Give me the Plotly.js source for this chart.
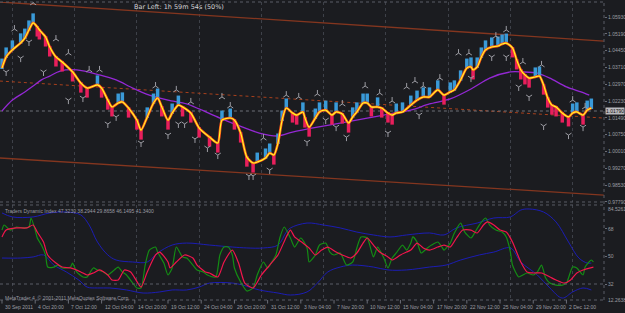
<!DOCTYPE html>
<html><head><meta charset="utf-8">
<script src="https://cdn.plot.ly/plotly-3.0.1.min.js"></script>
<style>html,body{margin:0;padding:0;background:#1b1c20;}#chart{width:625px;height:313px;}</style>
</head><body><div id="chart"></div>
<script>
// ---- data (x = H4 bar index from 30 Sep 2011 04:00) ----
const priceBars = [0,2,5,9,11,13,15,17,18,21,23,26,29,34,38,41,46,48,51,53,56,58,61,65,67,70,73,75,77,80,82,85,87,91,95,100,104,106,110,112,115,118,121,123,127,129,131,133,135,137,140,142,145,146,148,151,153,156,159,161,164,167,169,171,174,176,178,181,183,186,188,190,193,197,200,203,206,210,213,216,218,221,224,226,227,229,231,233,236,239,241,243,246,248,250,252,254,257,259,261,263,265,267,270,273,275,277,280,282,284];
const priceVals = [1.0368,1.0417,1.0448,1.0479,1.0500,1.0536,1.0567,1.0549,1.0536,1.0505,1.0461,1.0417,1.0395,1.0351,1.0302,1.0280,1.0294,1.0280,1.0227,1.0197,1.0214,1.0219,1.0192,1.0139,1.0095,1.0153,1.0214,1.0236,1.0197,1.0139,1.0170,1.0205,1.0197,1.0170,1.0104,1.0064,1.0038,1.0139,1.0148,1.0139,1.0082,0.9976,0.9950,0.9954,0.9972,0.9994,0.9985,1.0038,1.0139,1.0192,1.0170,1.0161,1.0175,1.0148,1.0108,1.0148,1.0175,1.0183,1.0161,1.0175,1.0166,1.0126,1.0153,1.0175,1.0214,1.0214,1.0197,1.0197,1.0192,1.0170,1.0161,1.0170,1.0175,1.0205,1.0227,1.0241,1.0241,1.0272,1.0249,1.0263,1.0272,1.0316,1.0368,1.0373,1.0360,1.0373,1.0417,1.0448,1.0461,1.0465,1.0474,1.0478,1.0457,1.0404,1.0360,1.0338,1.0324,1.0329,1.0333,1.0293,1.0236,1.0205,1.0197,1.0170,1.0153,1.0170,1.0175,1.0161,1.0183,1.0192];

const maBars = [0,5,11,15,19,23,28,36,47,55,63,71,80,89,95,105,116,124,133,140,152,163,176,187,197,206,216,226,235,245,251,258,264,272,279,283];
const maVals = [1.0179,1.0227,1.0263,1.0289,1.0316,1.0333,1.0355,1.0360,1.0338,1.0316,1.0280,1.0249,1.0227,1.0210,1.0188,1.0148,1.0108,1.0082,1.0069,1.0086,1.0108,1.0126,1.0148,1.0166,1.0183,1.0210,1.0232,1.0276,1.0324,1.0351,1.0351,1.0346,1.0324,1.0285,1.0263,1.0249];

const channelBars = [-1, 290];
const channelUpper = [1.0659, 1.0487];
const channelMiddle = [1.0311, 1.0148];
const channelLower = [0.9972, 0.9809];
const bidPrice = 1.0179;

const fracUpBars = [6,15,26,32,42,47,74,84,91,106,110,126,137,143,152,164,175,182,188,195,199,203,211,220,225,238,243,251,260,275,281];
const fracUpVals = [1.0540,1.0655,1.0496,1.0434,1.0360,1.0360,1.0289,1.0272,1.0219,1.0241,1.0201,1.0060,1.0249,1.0241,1.0254,1.0210,1.0289,1.0258,1.0223,1.0285,1.0311,1.0289,1.0324,1.0434,1.0434,1.0509,1.0536,1.0395,1.0382,1.0227,1.0197];
const fracDnBars = [2,9,13,20,32,39,51,55,67,80,85,88,93,99,104,119,121,129,147,156,161,166,186,201,226,236,243,249,254,261,273,280];
const fracDnVals = [1.0351,1.0412,1.0483,1.0351,1.0227,1.0236,1.0122,1.0153,1.0038,1.0073,1.0122,1.0122,1.0056,1.0016,0.9985,0.9893,0.9893,0.9919,1.0042,1.0139,1.0108,1.0064,1.0082,1.0161,1.0324,1.0417,1.0417,1.0285,1.0241,1.0113,1.0073,1.0108];

const rsiBars = [0,1,4,7,10,13,14,16,17,19,21,22,25,27,29,33,34,36,39,41,44,46,49,51,53,56,58,60,63,65,67,69,71,74,75,78,80,82,84,87,89,92,94,97,99,103,105,107,109,111,112,115,118,121,123,126,128,130,132,134,136,139,141,144,147,148,151,153,156,158,160,163,166,169,171,173,176,179,181,184,186,188,190,193,195,197,198,200,202,205,207,210,212,213,216,218,221,223,226,228,230,233,235,238,241,243,245,246,249,251,253,256,258,260,262,264,267,270,272,275,277,280,281,284,285];
const rsiVals = [67.3,70.6,67.3,69.3,68.7,69.3,75.2,67.3,62.1,57.5,51.0,43.1,43.1,44.4,42.5,43.1,45.7,39.9,36.6,36.6,42.5,41.2,39.9,37.9,39.9,43.1,39.9,37.9,32.6,29.4,29.4,44.4,54.2,56.2,52.9,45.7,37.9,42.5,56.2,49.7,49.0,44.4,41.2,39.9,37.9,36.6,51.0,56.2,56.2,51.0,42.5,33.3,27.4,29.4,37.9,46.4,42.5,46.4,51.0,62.8,69.3,62.1,56.2,62.1,55.6,46.4,51.0,57.5,58.8,52.9,51.0,52.3,44.4,46.4,55.6,62.8,62.1,49.7,56.2,49.0,42.5,49.0,52.3,57.5,54.2,58.8,62.8,59.5,52.3,55.6,57.5,59.5,56.2,54.2,58.8,65.4,71.9,66.0,62.1,66.0,70.6,75.2,70.6,67.3,66.0,62.8,52.9,44.4,36.6,37.9,39.2,37.9,39.9,44.4,35.9,32.6,31.3,31.3,32.6,43.1,42.5,37.9,43.1,47.7,46.4];

const sigBars = [0,2,7,12,15,17,20,22,26,29,33,38,41,44,47,51,53,56,59,62,64,67,70,74,76,80,81,84,88,92,94,98,100,104,107,111,114,117,121,125,129,133,137,139,141,145,148,151,154,157,161,164,168,171,174,176,179,182,186,188,192,195,197,200,203,206,210,213,216,219,222,226,229,232,234,237,240,243,246,250,253,256,260,264,267,271,274,277,280,285];
const sigVals = [62.8,67.3,68.7,68.7,70.6,66.0,59.5,51.0,45.7,43.1,42.5,39.9,37.9,39.2,41.2,37.9,34.6,34.6,41.2,39.9,35.9,30.0,39.9,51.0,52.9,46.4,42.5,46.4,51.0,49.0,44.4,39.9,39.2,36.6,46.4,54.2,45.7,32.6,29.4,37.9,44.4,51.0,62.8,67.3,62.8,58.8,55.6,51.0,54.2,56.2,52.9,51.0,49.0,52.3,58.8,62.1,57.5,52.9,49.7,47.7,51.0,52.9,54.2,58.8,55.6,54.2,56.2,57.5,56.2,62.1,67.3,67.3,65.4,70.6,72.6,70.6,67.3,66.0,59.5,46.4,39.9,39.2,39.2,36.6,34.6,32.6,34.6,39.2,41.2,43.1];

const upBandBars = [0,5,15,23,31,38,42,46,51,55,63,70,75,82,89,100,111,118,126,133,137,139,147,155,163,171,179,187,195,206,213,219,229,237,245,250,254,261,267,273,278,282,284];
const upBandVals = [78.5,75.9,75.9,78.5,79.1,77.2,70.6,59.5,51.0,47.7,46.4,46.4,52.3,57.5,58.8,57.5,56.2,55.6,55.6,57.5,66.0,68.7,71.9,70.6,68.7,66.0,64.1,62.8,64.1,65.4,64.1,68.7,71.9,75.2,75.9,80.4,81.1,79.1,72.6,59.5,49.0,45.7,45.7];
const loBandBars = [0,9,15,20,25,31,37,41,46,52,60,68,76,82,89,95,100,111,116,124,133,139,147,152,157,163,169,179,186,195,206,214,221,230,237,245,250,258,264,270,275,280,284];
const loBandVals = [49.0,49.0,49.7,51.0,44.4,39.9,34.6,30.0,29.4,29.4,28.1,26.1,26.8,28.1,28.1,30.0,32.6,32.6,31.3,28.1,26.1,24.8,26.8,32.6,39.9,43.1,44.4,43.1,41.2,41.2,43.1,44.4,47.7,51.0,52.9,55.6,46.4,37.9,29.4,22.8,26.8,29.4,28.1];

const priceTicks = [1.0593,1.0519,1.0445,1.0371,1.0297,1.0223,1.0149,1.0075,1.0001,0.9927,0.9853,0.9779];
const tdiTicks = [68,50,32];
const tdiLevel = 32;
const tdiMaxLabel = "84.5261";
const tdiMinLabel = "12.2638";
const timeLabels = ["30 Sep 2011","4 Oct 20:00","7 Oct 12:00","12 Oct 04:00","14 Oct 20:00","19 Oct 12:00","24 Oct 04:00","26 Oct 20:00","31 Oct 12:00","3 Nov 04:00","7 Nov 20:00","10 Nov 12:00","15 Nov 04:00","17 Nov 20:00","22 Nov 12:00","25 Nov 04:00","29 Nov 20:00","2 Dec 12:00"];
const timeLabelBars = [0,16,32,48,64,80,96,112,128,144,160,176,192,208,224,240,256,272];
const weekGridBars = [5,35,65,95,125,155,185,215,245,275];
const barLeftText = "Bar Left: 1h 59m 54s (50%)";
const tdiTitle = "Traders Dynamic Index 47.3230 38.2944 29.8658 46.1495 41.3400";
const footerText = "MetaTrader 4, © 2001-2011 MetaQuotes Software Corp.";

// ---- build traces ----
const upX=[],upY=[],dnX=[],dnY=[];
for (let i=0;i<priceVals.length;i++){
  if (i===0 || priceVals[i]>=priceVals[i-1]) {upX.push(priceBars[i]);upY.push(priceVals[i]);}
  else {dnX.push(priceBars[i]);dnY.push(priceVals[i]);}
}
const chanColor = '#84361f';
const fracCol = '#9d9da4';
const traces = [
  {x:channelBars,y:channelUpper,mode:'lines',line:{color:chanColor,width:1.3},xaxis:'x',yaxis:'y'},
  {x:channelBars,y:channelLower,mode:'lines',line:{color:chanColor,width:1.3},xaxis:'x',yaxis:'y'},
  {x:channelBars,y:channelMiddle,mode:'lines',line:{color:'#a8401c',width:1,dash:'dot'},xaxis:'x',yaxis:'y'},
  {x:channelBars,y:[bidPrice,bidPrice],mode:'lines',line:{color:'#6e7078',width:1,dash:'dot'},xaxis:'x',yaxis:'y'},
  {x:maBars,y:maVals,mode:'lines',line:{color:'#9428d4',width:1.3,shape:'spline',smoothing:0.8},xaxis:'x',yaxis:'y'},
  {x:upX,y:upY,mode:'markers',marker:{size:1,opacity:0},xaxis:'x',yaxis:'y',
   error_y:{type:'constant',symmetric:false,value:0.0042,valueminus:0.0004,color:'#3a9ad8',thickness:3.5,width:0}},
  {x:dnX,y:dnY,mode:'markers',marker:{size:1,opacity:0},xaxis:'x',yaxis:'y',
   error_y:{type:'constant',symmetric:false,value:0.0004,valueminus:0.0042,color:'#e81f5c',thickness:3.5,width:0}},
  {x:priceBars,y:priceVals,mode:'lines',line:{color:'#ff5418',width:2.6,shape:'spline',smoothing:0.7},xaxis:'x',yaxis:'y'},
  {x:priceBars,y:priceVals,mode:'lines',line:{color:'#ffff28',width:1.1,shape:'spline',smoothing:0.7},xaxis:'x',yaxis:'y'},
  {x:fracUpBars,y:fracUpVals,mode:'markers',marker:{symbol:'y-up-open',size:5,color:fracCol,line:{color:fracCol,width:1}},xaxis:'x',yaxis:'y'},
  {x:fracDnBars,y:fracDnVals,mode:'markers',marker:{symbol:'y-down-open',size:5,color:fracCol,line:{color:fracCol,width:1}},xaxis:'x',yaxis:'y'},
  {x:upBandBars,y:upBandVals,mode:'lines',line:{color:'#1c1cb4',width:1,shape:'spline'},xaxis:'x2',yaxis:'y2'},
  {x:loBandBars,y:loBandVals,mode:'lines',line:{color:'#1c1cb4',width:1,shape:'spline'},xaxis:'x2',yaxis:'y2'},
  {x:rsiBars,y:rsiVals,mode:'lines',line:{color:'#148c14',width:1.2,shape:'spline',smoothing:0.6},xaxis:'x2',yaxis:'y2'},
  {x:sigBars,y:sigVals,mode:'lines',line:{color:'#f2154c',width:1.2,shape:'spline',smoothing:0.6},xaxis:'x2',yaxis:'y2'}
];

const xr = [-0.96, 290.1];
const gridCol = '#3e4149';
const axX = {range:xr,tickvals:weekGridBars,showgrid:true,gridcolor:gridCol,griddash:'dot',gridwidth:1,
  showticklabels:false,ticks:'',zeroline:false,showline:false,fixedrange:true};
const fam = 'Liberation Sans Narrow, Liberation Sans, DejaVu Sans Condensed, sans-serif';
const tickFont = {family:fam,size:5,color:'#9c9ca2'};

const shapes = [];
[1, 0.32886, 0.3188, 0].forEach(v=>shapes.push({type:'line',xref:'paper',yref:'paper',x0:0,x1:1,y0:v,y1:v,line:{color:'#5a5d66',width:1,dash:'dot'}}));
shapes.push({type:'line',xref:'paper',yref:'paper',x0:1,x1:1,y0:0,y1:1,line:{color:'#5a5d66',width:1,dash:'dot'}});
shapes.push({type:'line',xref:'paper',yref:'y2',x0:0,x1:1,y0:tdiLevel,y1:tdiLevel,line:{color:'#5a5d66',width:1,dash:'dot'}});
timeLabelBars.forEach(b=>shapes.push({type:'line',xref:'x2',yref:'paper',x0:b,x1:b,y0:0,y1:-0.012,line:{color:'#6a6d76',width:1}}));

const annotations = [
  {text:barLeftText,xref:'paper',yref:'paper',x:0.2185,y:0.983,xanchor:'left',yanchor:'middle',showarrow:false,font:{family:'DejaVu Sans, sans-serif',size:6.5,color:'#d2d2d6'}},
  {text:tdiTitle,xref:'paper',yref:'paper',x:0.005,y:0.297,xanchor:'left',yanchor:'middle',showarrow:false,font:{family:fam,size:5,color:'#9a9aa0'}},
  {text:footerText,xref:'paper',yref:'paper',x:0.005,y:0.008,xanchor:'left',yanchor:'middle',showarrow:false,font:{family:fam,size:5,color:'#9a9aa0'}},
  {text:bidPrice.toFixed(5),xref:'paper',yref:'y',x:1,y:bidPrice,xanchor:'left',yanchor:'middle',xshift:1,showarrow:false,bgcolor:'#b9b9bd',borderpad:0,font:{family:fam,size:5,color:'#101010'}},
  {text:tdiMaxLabel,xref:'paper',yref:'paper',x:1,y:0.306,xanchor:'left',yanchor:'middle',xshift:2,showarrow:false,font:tickFont},
  {text:tdiMinLabel,xref:'paper',yref:'paper',x:1,y:0.0,xanchor:'left',yanchor:'middle',xshift:2,showarrow:false,font:tickFont}
];
timeLabels.forEach((t,i)=>annotations.push({text:t,xref:'x2',yref:'paper',x:timeLabelBars[i],y:0,xanchor:'left',yanchor:'top',xshift:1,yshift:-2,showarrow:false,font:tickFont}));

const layout = {
  width:625,height:313,margin:{l:0,r:21,t:2,b:13},
  paper_bgcolor:'#1b1c20',plot_bgcolor:'#1b1c20',showlegend:false,
  xaxis:Object.assign({anchor:'y'},axX),
  xaxis2:Object.assign({anchor:'y2'},axX),
  yaxis:{domain:[0.32886,1],range:[0.97783,1.06591],side:'right',tickvals:priceTicks,ticktext:priceTicks.map(v=>v.toFixed(5)),
    ticks:'outside',ticklen:2,tickcolor:'#6a6d76',tickfont:tickFont,showgrid:false,zeroline:false,showline:false,fixedrange:true},
  yaxis2:{domain:[0,0.3188],range:[21.53,83.71],side:'right',tickvals:tdiTicks,ticktext:tdiTicks.map(String),
    ticks:'outside',ticklen:2,tickcolor:'#6a6d76',tickfont:tickFont,showgrid:false,zeroline:false,showline:false,fixedrange:true},
  shapes:shapes,annotations:annotations
};
Plotly.newPlot('chart',traces,layout,{displayModeBar:false,staticPlot:true});
</script></body></html>
